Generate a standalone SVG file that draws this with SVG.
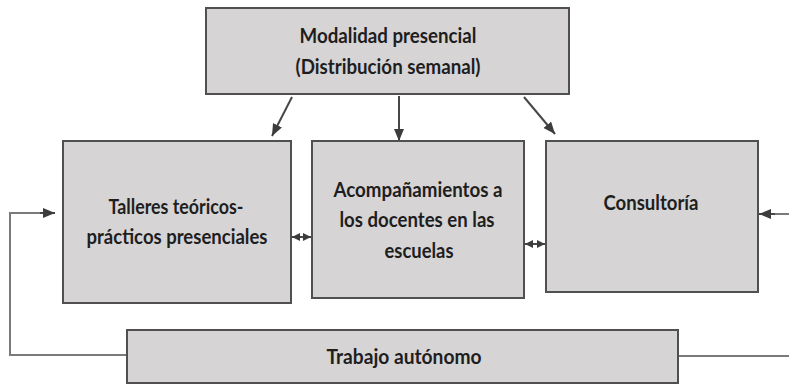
<svg xmlns="http://www.w3.org/2000/svg" width="789" height="389" viewBox="0 0 789 389">
<style>
.box{fill:#d7d4d5;stroke:#505050;stroke-width:2}
.t{font-family:Lato,"Liberation Sans",sans-serif;font-weight:bold;font-size:20px;fill:#1e1e1e;text-anchor:middle}
.c{fill:none;stroke:#474747;stroke-width:2}
.l{fill:none;stroke:#7a7a7a;stroke-width:2}
</style>
<defs>
<marker id="ah" markerUnits="userSpaceOnUse" markerWidth="12" markerHeight="10" refX="12" refY="5" orient="auto"><path d="M0,0 L12,5 L0,10 z" fill="#3c3c3c"/></marker>
<marker id="sh" markerUnits="userSpaceOnUse" markerWidth="8" markerHeight="8" refX="8" refY="4" orient="auto-start-reverse"><path d="M0,0 L8,4 L0,8 z" fill="#3c3c3c"/></marker>
</defs>
<rect width="789" height="389" fill="#ffffff"/>
<g id="connectors">
<line class="c" x1="292" y1="97" x2="272" y2="136" marker-end="url(#ah)"/>
<line class="c" x1="399" y1="96" x2="399" y2="141" marker-end="url(#ah)"/>
<line class="c" x1="524" y1="97" x2="555" y2="134" marker-end="url(#ah)"/>
<line class="c" x1="292" y1="237" x2="311" y2="237" marker-start="url(#sh)" marker-end="url(#sh)"/>
<line class="c" x1="525" y1="244" x2="545" y2="244" marker-start="url(#sh)" marker-end="url(#sh)"/>
<polyline class="l" points="126,355 10,355 10,213 54,213"/>
<line class="c" x1="40" y1="213" x2="55" y2="213" marker-end="url(#ah)"/>
<line class="l" x1="679" y1="356" x2="789" y2="356"/>
<line class="l" x1="789" y1="214" x2="770" y2="214"/>
<line class="c" x1="775" y1="214" x2="759" y2="214" marker-end="url(#ah)"/>
</g>
<g id="modalidad">
<rect class="box" x="206" y="8" width="363" height="86"/>
<text class="t" x="388" y="43" textLength="177" lengthAdjust="spacingAndGlyphs">Modalidad presencial</text>
<text class="t" x="388" y="74" textLength="185" lengthAdjust="spacingAndGlyphs">(Distribución semanal)</text>
</g>
<g id="talleres">
<rect class="box" x="63" y="141" width="228" height="162"/>
<text class="t" x="176" y="214" textLength="135" lengthAdjust="spacingAndGlyphs">Talleres teóricos-</text>
<text class="t" x="177" y="244" textLength="181" lengthAdjust="spacingAndGlyphs">prácticos presenciales</text>
</g>
<g id="acompanamientos">
<rect class="box" x="312" y="141" width="212" height="157"/>
<text class="t" x="418" y="197" textLength="169" lengthAdjust="spacingAndGlyphs">Acompañamientos a</text>
<text class="t" x="417" y="227" textLength="155" lengthAdjust="spacingAndGlyphs">los docentes en las</text>
<text class="t" x="419" y="258" textLength="69" lengthAdjust="spacingAndGlyphs">escuelas</text>
</g>
<g id="consultoria">
<rect class="box" x="546" y="141" width="212" height="151"/>
<text class="t" x="651" y="210" textLength="95" lengthAdjust="spacingAndGlyphs">Consultoría</text>
</g>
<g id="trabajo">
<rect class="box" x="127" y="330" width="551" height="53"/>
<text class="t" x="404" y="364" textLength="155" lengthAdjust="spacingAndGlyphs">Trabajo autónomo</text>
</g>
</svg>
